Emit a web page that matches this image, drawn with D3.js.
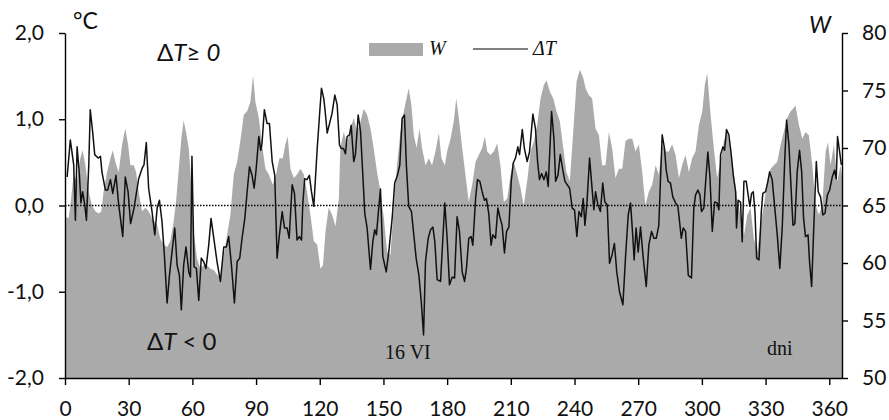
<!DOCTYPE html>
<html>
<head>
<meta charset="utf-8">
<script src="https://cdn.jsdelivr.net/npm/d3@7"></script>
<style>
  body { margin: 0; background: #fff; }
  svg { display: block; }
  .axis text { font-family: Lato, sans-serif; font-size: 21px; fill: #111; }
  .axis path, .axis line { stroke: #000; stroke-width: 1.4; }
  .sans { font-family: Lato, sans-serif; fill: #111; }
  .serif { font-family: "Liberation Serif", "Times New Roman", serif; fill: #111; }
</style>
</head>
<body>
<svg id="chart" width="889" height="420"></svg>
<script>
// Axis ticks
const dayTicks = [0, 30, 60, 90, 120, 150, 180, 210, 240, 270, 300, 330, 360];
const tempTicks = [-2, -1, 0, 1, 2];
const wTicks = [50, 55, 60, 65, 70, 75, 80];

// W (grey area)
const wDays = [0.5, 1.7, 2.5, 4.1, 5.7, 7.2, 8.3, 9.6, 11.2, 12.7, 14.3, 15.9, 17.1, 18.2, 19.8, 21.4, 22.5, 23.7, 25.3, 26.9,
  28.4, 29.7, 30.8, 32.4, 33.5, 34.7, 36.3, 37.9, 39.4, 41.0, 43.4, 44.9, 46.5, 48.1, 49.6, 51.2, 52.3, 53.6, 54.8, 55.9,
  57.0, 58.3, 59.5, 60.6, 62.2, 63.8, 65.3, 66.9, 68.5, 70.1, 71.6, 73.2, 74.8, 76.3, 77.9, 79.5, 81.1, 82.6, 84.2, 85.8,
  87.3, 88.6, 89.7, 91.3, 92.8, 94.4, 96.0, 97.9, 99.4, 101.0, 102.6, 103.8, 104.9, 106.2, 107.8, 109.3, 110.9, 112.5, 114.0, 115.6,
  117.2, 118.8, 120.3, 121.5, 122.7, 124.2, 125.8, 127.4, 129.0, 129.7, 131.3, 132.9, 134.5, 136.0, 137.6, 139.2, 140.7, 142.3, 143.9, 145.4,
  147.0, 148.6, 150.2, 151.7, 153.3, 154.9, 156.4, 158.0, 159.6, 161.2, 161.9, 163.2, 164.3, 165.6, 167.0, 168.2, 169.8, 171.4, 172.9, 174.5,
  176.1, 177.3, 178.9, 180.0, 181.6, 183.1, 184.3, 185.5, 187.1, 188.6, 190.2, 191.8, 193.4, 194.9, 196.5, 197.8, 198.9, 200.4, 202.0, 203.6,
  205.1, 206.7, 208.3, 209.9, 211.4, 213.0, 214.6, 216.1, 217.7, 219.3, 220.9, 222.4, 224.0, 225.6, 226.8, 228.4, 230.0, 231.5, 233.1, 234.7,
  236.2, 237.8, 239.4, 241.0, 242.5, 244.1, 245.2, 246.7, 248.3, 249.9, 251.5, 253.0, 254.6, 256.2, 257.7, 259.3, 260.9, 262.5, 264.0, 265.6,
  267.2, 268.7, 270.3, 271.9, 273.4, 275.0, 276.6, 278.2, 279.7, 281.3, 282.9, 284.4, 286.0, 287.6, 289.2, 290.7, 292.3, 293.9, 295.4, 297.0,
  298.6, 300.2, 301.4, 302.5, 304.1, 305.6, 307.2, 308.8, 310.4, 311.9, 313.5, 315.1, 316.6, 318.2, 319.8, 321.4, 322.9, 324.5, 326.1, 327.6,
  329.2, 330.8, 332.4, 333.9, 335.5, 337.1, 338.6, 340.2, 341.8, 342.9, 344.1, 345.7, 347.3, 348.8, 350.4, 352.0, 353.6, 355.1, 356.7, 358.3,
  359.4, 360.6, 362.2, 363.8, 365.3, 366.0];
const wValues = [64.0, 63.9, 65.0, 67.7, 67.1, 69.1, 69.8, 68.5, 66.2, 65.0, 64.5, 64.3, 64.5, 66.2, 67.9, 69.1, 69.8, 68.8, 67.9, 70.3,
  71.7, 70.3, 68.5, 68.5, 67.9, 66.2, 64.5, 64.8, 64.5, 63.9, 63.3, 62.1, 61.6, 61.4, 61.9, 63.6, 65.3, 68.2, 70.8, 72.4,
  71.4, 70.0, 66.8, 62.7, 60.4, 59.5, 59.8, 59.8, 59.5, 59.4, 59.0, 58.7, 60.7, 62.4, 64.2, 67.7, 68.8, 70.6, 72.9, 73.2,
  74.0, 76.3, 74.0, 72.6, 70.3, 68.2, 67.7, 66.8, 67.7, 69.1, 69.1, 70.3, 71.0, 68.2, 67.4, 67.7, 68.2, 67.7, 66.2, 64.2,
  61.9, 61.6, 59.5, 59.8, 62.7, 64.8, 64.2, 63.2, 65.6, 70.0, 71.4, 70.3, 71.7, 72.6, 71.4, 72.3, 73.4, 72.9, 71.7, 70.0,
  67.9, 66.2, 63.9, 61.0, 60.7, 65.0, 68.5, 71.4, 73.2, 74.6, 75.2, 73.7, 71.1, 70.0, 71.7, 70.0, 68.5, 69.1, 68.5, 69.7,
  71.3, 69.1, 68.5, 69.7, 70.8, 72.3, 74.3, 72.6, 70.0, 67.7, 65.3, 66.8, 68.8, 69.4, 70.0, 71.0, 69.7, 69.4, 69.7, 70.4,
  68.5, 65.3, 65.6, 67.7, 68.8, 67.7, 66.5, 65.0, 67.1, 69.7, 70.6, 72.0, 74.3, 75.5, 75.9, 74.9, 74.3, 73.2, 72.3, 70.0,
  67.9, 67.1, 71.4, 75.8, 76.8, 76.1, 75.2, 74.6, 74.3, 71.7, 71.1, 68.5, 68.5, 71.4, 70.0, 67.4, 68.2, 68.2, 70.6, 70.8,
  70.8, 69.7, 70.3, 67.9, 65.0, 66.2, 66.8, 68.5, 67.7, 70.3, 69.7, 69.7, 70.3, 69.4, 67.4, 68.5, 69.4, 67.9, 69.1, 69.7,
  72.0, 73.2, 75.5, 76.5, 72.9, 70.0, 67.4, 68.8, 70.6, 71.4, 70.0, 67.7, 65.6, 64.2, 62.4, 64.2, 64.8, 62.1, 61.0, 63.3,
  65.0, 67.1, 68.2, 68.5, 68.8, 70.3, 71.4, 72.6, 73.2, 73.4, 73.7, 72.0, 70.8, 71.4, 71.1, 68.5, 65.0, 64.2, 65.0, 69.7,
  70.5, 68.5, 70.3, 67.1, 68.5, 67.5];

// ΔT (black line)
const tDays = [1.0, 2.5, 4.1, 4.9, 5.7, 6.8, 7.5, 8.3, 9.3, 10.1, 11.2, 11.9, 13.0, 14.0, 15.6, 16.7, 17.4, 19.0, 20.1, 21.4,
  22.5, 24.0, 25.3, 27.2, 28.4, 29.7, 30.9, 32.5, 34.7, 36.3, 37.2, 38.3, 39.4, 41.0, 42.3, 43.4, 44.5, 45.7, 46.8, 48.1,
  49.2, 50.4, 51.7, 52.8, 53.9, 54.8, 55.9, 57.0, 58.3, 59.1, 59.8, 60.8, 61.9, 63.0, 64.2, 65.3, 66.4, 67.7, 68.8, 70.1,
  71.6, 73.2, 74.8, 76.0, 77.1, 78.4, 79.8, 81.1, 82.3, 83.4, 84.7, 85.8, 86.9, 88.1, 89.1, 90.0, 91.3, 92.2, 92.8, 93.9,
  95.2, 96.3, 97.6, 98.8, 99.9, 101.0, 102.3, 103.4, 104.6, 105.6, 107.0, 108.1, 109.3, 110.4, 111.4, 112.0, 112.9, 114.0, 115.1, 116.1,
  117.2, 118.8, 119.9, 120.8, 121.9, 122.4, 123.5, 124.6, 125.8, 127.1, 128.2, 129.3, 130.2, 131.2, 132.1, 132.9, 134.0, 134.8, 136.0, 136.8,
  138.1, 139.2, 140.3, 141.2, 142.3, 143.9, 145.0, 145.9, 146.7, 147.5, 148.6, 149.7, 151.3, 152.5, 154.1, 155.3, 156.6, 157.7, 158.8, 159.9,
  160.8, 161.9, 163.2, 164.3, 165.4, 166.7, 167.8, 168.9, 169.8, 171.1, 172.2, 173.3, 174.2, 175.3, 176.9, 178.0, 178.9, 180.0, 181.1, 182.4,
  183.5, 184.7, 185.8, 187.1, 188.2, 189.1, 190.2, 191.3, 192.1, 193.4, 194.3, 195.4, 196.5, 197.6, 198.5, 199.6, 200.7, 201.5, 202.8, 203.9,
  204.8, 205.9, 207.0, 208.0, 209.1, 210.2, 211.1, 212.2, 213.3, 214.1, 215.4, 216.4, 217.7, 218.8, 220.4, 221.6, 222.6, 223.5, 224.5, 225.6,
  226.7, 227.6, 229.2, 230.3, 231.1, 232.2, 233.3, 234.5, 235.5, 236.6, 237.7, 238.9, 240.0, 241.1, 242.1, 243.2, 244.1, 244.9, 245.8, 247.1,
  248.0, 249.1, 249.9, 251.0, 252.2, 253.3, 254.3, 255.4, 256.5, 257.7, 258.8, 259.9, 261.2, 262.8, 264.0, 265.3, 266.4, 267.5, 268.1, 269.0,
  270.0, 271.1, 272.3, 273.8, 275.0, 276.3, 277.4, 278.5, 279.7, 281.3, 282.4, 283.2, 284.1, 285.2, 286.3, 287.6, 288.7, 289.5, 290.3, 291.2,
  292.3, 293.6, 295.1, 296.2, 297.0, 298.1, 299.1, 299.8, 300.9, 302.0, 302.8, 303.8, 304.9, 306.0, 307.2, 308.0, 308.8, 309.9, 310.7, 311.6,
  312.7, 313.8, 314.8, 315.9, 316.3, 317.1, 318.2, 319.0, 319.8, 320.9, 321.8, 322.6, 323.4, 324.2, 325.0, 325.8, 326.9, 328.0, 328.7, 330.0,
  331.1, 331.9, 333.1, 334.2, 335.5, 336.7, 337.9, 339.0, 339.9, 341.0, 342.1, 342.9, 343.8, 344.9, 346.0, 347.0, 347.9, 348.8, 350.0, 350.7,
  351.7, 352.8, 353.9, 354.8, 355.9, 357.0, 358.0, 359.1, 360.2, 361.4, 362.5, 363.3, 363.9, 364.9, 365.7];
const tValues = [0.33, 0.76, 0.47, -0.17, 0.68, 0.35, 0.03, 0.16, 0.01, -0.17, 0.47, 1.11, 0.86, 0.59, 0.55, 0.57, 0.39, 0.18, 0.18, 0.30,
  0.14, 0.35, 0.01, -0.36, 0.33, 0.16, -0.21, -0.03, 0.31, 0.43, 0.47, 0.73, 0.20, -0.07, -0.34, -0.03, 0.06, -0.19, -0.57, -1.13,
  -0.81, -0.54, -0.26, -0.69, -0.81, -1.21, -0.69, -0.48, -0.77, -0.83, 0.57, -0.71, -0.73, -1.10, -0.61, -0.65, -0.73, -0.46, -0.15, -0.38,
  -0.65, -0.88, -0.48, -0.48, -0.36, -0.69, -1.13, -0.65, -0.61, -0.38, -0.15, 0.16, 0.45, 0.35, 0.20, 0.41, 0.80, 0.64, 0.72, 1.11,
  0.95, 0.95, 0.51, 0.35, -0.61, -0.34, -0.07, -0.26, -0.26, -0.38, 0.24, 0.14, -0.40, -0.36, -0.40, 0.01, 0.31, 0.30, 0.35, 0.16,
  -0.01, 0.66, 1.05, 1.36, 1.24, 1.13, 0.84, 0.95, 1.07, 1.28, 1.17, 0.70, 0.66, 0.66, 0.60, 0.80, 0.82, 0.93, 0.51, 0.59,
  1.05, 0.86, 0.35, -0.09, -0.26, -0.74, -0.42, -0.28, -0.34, -0.11, 0.19, -0.59, -0.77, -0.54, -0.15, 0.26, 0.35, 0.47, 1.01, 1.05,
  0.47, -0.01, -0.07, -0.34, -0.61, -0.81, -1.11, -1.50, -0.65, -0.38, -0.28, -0.25, -0.42, -0.86, -0.88, -0.38, 0.03, -0.38, -0.92, -0.83,
  -0.84, -0.13, -0.30, -0.77, -0.88, -0.73, -0.38, -0.36, -0.46, 0.08, 0.30, 0.28, 0.16, 0.06, 0.08, -0.09, -0.46, -0.34, -0.38, -0.03,
  -0.13, -0.23, -0.55, -0.30, -0.25, 0.28, 0.49, 0.55, 0.68, 0.59, 0.88, 0.66, 0.51, 0.62, 1.06, 0.89, 0.51, 0.30, 0.37, 0.30,
  0.39, 0.22, 1.09, 0.78, 0.28, 0.35, 0.59, 0.41, 0.28, 0.24, 0.20, -0.03, -0.05, -0.36, -0.07, -0.13, 0.08, -0.23, 0.01, 0.55,
  0.28, -0.05, 0.16, 0.01, -0.07, 0.26, 0.04, 0.01, -0.67, -0.57, -0.44, -0.77, -1.00, -1.15, -0.61, -0.11, 0.03, -0.38, -0.63, -0.26,
  -0.54, -0.25, -0.59, -0.94, -0.46, -0.30, -0.38, -0.38, -0.23, 0.82, 0.66, 0.41, 0.28, 0.26, 0.10, 0.03, -0.01, -0.19, -0.38, -0.26,
  -0.30, -0.81, -0.84, -0.03, 0.12, 0.18, 0.12, -0.07, -0.03, 0.35, 0.62, 0.33, -0.30, 0.04, 0.03, -0.05, 0.59, 0.68, 0.64, 0.88,
  0.82, 0.60, 0.35, 0.16, -0.26, 0.06, 0.04, -0.42, 0.28, 0.28, 0.12, -0.01, 0.14, 0.16, -0.07, -0.61, -0.63, -0.07, 0.14, 0.16,
  0.28, 0.39, 0.30, 0.01, -0.34, -0.73, -0.23, 0.51, 0.99, 0.70, 0.16, -0.23, -0.21, 0.39, 0.64, 0.39, -0.15, -0.36, -0.34, -0.65,
  -0.94, -0.19, 0.51, 0.16, 0.10, -0.11, -0.09, 0.12, 0.18, 0.33, 0.41, 0.31, 0.80, 0.62, 0.47];

const wData = wDays.map((d, i) => ({day: d, value: wValues[i]}));
const tData = tDays.map((d, i) => ({day: d, value: tValues[i]}));

const svg = d3.select('#chart');

const x = d3.scaleLinear().domain([0, 366]).range([65, 842]);
const yT = d3.scaleLinear().domain([-2, 2]).range([378, 33]);
const yW = d3.scaleLinear().domain([50, 80]).range([378, 33]);

// Grey W area
svg.append('path').
  datum(wData).
  attr('fill', '#aaaaaa').
  attr('d', d3.area().
    x((d) => x(d.day)).
    y0(yW(50)).
    y1((d) => yW(d.value)));

// Zero line, dotted
svg.append('line').
  attr('x1', x(0)).attr('x2', x(366)).
  attr('y1', yT(0)).attr('y2', yT(0)).
  attr('stroke', '#000').
  attr('stroke-width', 1.3).
  attr('stroke-dasharray', '1.5,1.5');

// ΔT line
svg.append('path').
  datum(tData).
  attr('fill', 'none').
  attr('stroke', '#111').
  attr('stroke-width', 1.5).
  attr('stroke-linejoin', 'round').
  attr('d', d3.line().
    x((d) => x(d.day)).
    y((d) => yT(d.value)));

// Axes
const comma = (d) => d.toFixed(1).replace('.', ',');

svg.append('g').
  attr('class', 'axis').
  attr('transform', `translate(0,${yT(-2)})`).
  call(d3.axisBottom(x).tickValues(dayTicks).tickSize(7).tickPadding(16).tickSizeOuter(0));

svg.append('g').
  attr('class', 'axis').
  attr('transform', `translate(${x(0)},0)`).
  call(d3.axisLeft(yT).tickValues(tempTicks).tickFormat(comma).tickSize(6).tickPadding(15).tickSizeOuter(0));

svg.append('g').
  attr('class', 'axis').
  attr('transform', `translate(${x(366)},0)`).
  call(d3.axisRight(yW).tickValues(wTicks).tickSize(6).tickPadding(14).tickSizeOuter(0));

svg.selectAll('.axis text').attr('font-family', null).attr('font-size', null);

// Units
svg.append('text').attr('class', 'sans').
  attr('x', 73).attr('y', 29).
  style('font-size', '23px').
  text('°C');
svg.append('text').attr('class', 'sans').
  attr('x', 809).attr('y', 33).
  style('font-size', '23px').style('font-style', 'italic').
  text('W');

// Region notes
const upper = svg.append('text').attr('class', 'sans').
  attr('x', 157).attr('y', 61).
  style('font-size', '24px');
upper.append('tspan').text('Δ');
upper.append('tspan').style('font-style', 'italic').text('T');
upper.append('tspan').text('≥ ');
upper.append('tspan').style('font-style', 'italic').text('0');

const lower = svg.append('text').attr('class', 'sans').
  attr('x', 147).attr('y', 350).
  style('font-size', '24px');
lower.append('tspan').text('Δ');
lower.append('tspan').style('font-style', 'italic').text('T');
lower.append('tspan').text(' < 0');

svg.append('text').attr('class', 'serif').
  attr('x', 385).attr('y', 359).
  style('font-size', '20px').
  text('16 VI');
svg.append('text').attr('class', 'serif').
  attr('x', 767).attr('y', 355).
  style('font-size', '20px').
  text('dni');

// Legend
svg.append('rect').
  attr('x', 369).attr('y', 43).
  attr('width', 54).attr('height', 13).
  attr('fill', '#aaaaaa');
svg.append('text').attr('class', 'serif').
  attr('x', 429).attr('y', 55).
  style('font-size', '20px').style('font-style', 'italic').
  text('W');
svg.append('line').
  attr('x1', 473).attr('x2', 528).
  attr('y1', 49).attr('y2', 49).
  attr('stroke', '#000').attr('stroke-width', 1.2);
svg.append('text').attr('class', 'serif').
  attr('x', 533).attr('y', 55).
  style('font-size', '20px').style('font-style', 'italic').
  text('ΔT');
</script>
</body>
</html>
